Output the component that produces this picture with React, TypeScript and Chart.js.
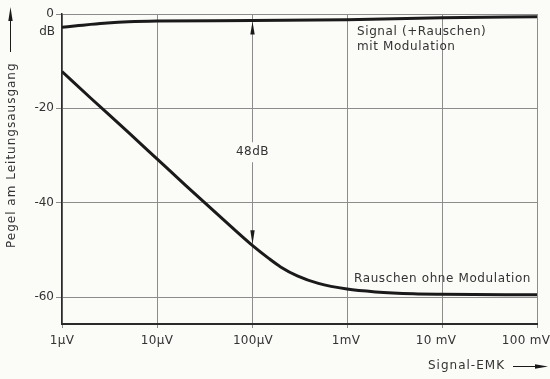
import React, { useEffect, useRef } from "react";
import { Chart, registerables } from "chart.js";

Chart.register(...registerables);

// ---- data ----
const xTickValues = [1e-6, 1e-5, 1e-4, 1e-3, 1e-2, 1e-1];
const xTickLabels = ["1µV", "10µV", "100µV", "1mV", "10 mV", "100 mV"];
const yTickValues = [0, -20, -40, -60];
const yTickLabels = ["0", "-20", "-40", "-60"];

const signalX = [1e-6, 1.5e-6, 2e-6, 3e-6, 5e-6, 1e-5, 1e-4, 1e-3, 1e-2, 1e-1];
const signalDb = [-2.8, -2.45, -2.2, -1.9, -1.65, -1.5, -1.4, -1.2, -0.8, -0.6];

const noiseX = [1e-6, 2e-6, 5e-6, 1e-5, 2e-5, 5e-5, 1e-4, 1.5e-4, 2e-4, 3e-4, 5e-4, 1e-3, 2e-3, 5e-3, 1e-2, 1e-1];
const noiseDb = [-12.2, -17.8, -25.1, -30.7, -36.3, -43.6, -49.0, -51.8, -53.6, -55.5, -57.1, -58.3, -58.9, -59.3, -59.4, -59.5];

const markerX = 1e-4;
const markerLabel = "48dB";
const signalLabel1 = "Signal (+Rauschen)";
const signalLabel2 = "mit Modulation";
const noiseLabel = "Rauschen ohne Modulation";
const yTitle = "Pegel am Leitungsausgang";
const xTitle = "Signal-EMK";
const yUnit = "dB";

const FONT = "'DejaVu Sans', sans-serif";
const BG = "#fbfbf8";
const INK = "#1a1a1a";
const TXT = "#333333";
// horizontal nudge of x tick labels (the mV labels sit left of their ticks)
const X_LABEL_SHIFT = [0, 0, 1, -1, -6, -11];

function interp(xs: number[], ys: number[], x: number) {
  const lx = Math.log10(x);
  for (let i = 0; i < xs.length - 1; i++) {
    const a = Math.log10(xs[i]);
    const b = Math.log10(xs[i + 1]);
    if (lx >= a && lx <= b) return ys[i] + ((lx - a) / (b - a)) * (ys[i + 1] - ys[i]);
  }
  return ys[ys.length - 1];
}

function tri(ctx: CanvasRenderingContext2D, pts: number[][]) {
  ctx.beginPath();
  ctx.moveTo(pts[0][0], pts[0][1]);
  ctx.lineTo(pts[1][0], pts[1][1]);
  ctx.lineTo(pts[2][0], pts[2][1]);
  ctx.closePath();
  ctx.fill();
}

const bgPlugin = {
  id: "bg",
  beforeDraw(chart: any) {
    const ctx = chart.ctx;
    ctx.save();
    ctx.fillStyle = BG;
    ctx.fillRect(0, 0, chart.width, chart.height);
    ctx.restore();
  },
};

const annoPlugin = {
  id: "anno",
  afterDatasetsDraw(chart: any) {
    const ctx: CanvasRenderingContext2D = chart.ctx;
    const xs = chart.scales.x;
    const ys = chart.scales.y;
    ctx.save();

    // x tick labels
    ctx.font = `12px ${FONT}`;
    (ctx as any).letterSpacing = "0.3px";
    ctx.fillStyle = TXT;
    ctx.textAlign = "center";
    ctx.textBaseline = "middle";
    xTickValues.forEach((v, i) => {
      ctx.fillText(xTickLabels[i], xs.getPixelForValue(v) + X_LABEL_SHIFT[i], chart.chartArea.bottom + 17);
    });

    // marker arrow
    const mx = Math.round(xs.getPixelForValue(markerX)) + 0.5;
    const yTop = ys.getPixelForValue(interp(signalX, signalDb, markerX));
    const yBot = ys.getPixelForValue(interp(noiseX, noiseDb, markerX));
    const labelY = ys.getPixelForValue(-29.3);
    ctx.font = `12px ${FONT}`;
    (ctx as any).letterSpacing = "0.5px";
    const tw = ctx.measureText(markerLabel).width;
    ctx.fillStyle = BG;
    ctx.fillRect(mx - tw / 2 - 2, labelY - 10, tw + 4, 20);
    ctx.fillStyle = TXT;
    ctx.textAlign = "center";
    ctx.textBaseline = "middle";
    ctx.fillText(markerLabel, mx, labelY);
    ctx.fillStyle = INK;
    tri(ctx, [[mx, yTop + 1], [mx - 2.2, yTop + 14], [mx + 2.2, yTop + 14]]);
    tri(ctx, [[mx, yBot - 1], [mx - 2.2, yBot - 15], [mx + 2.2, yBot - 15]]);

    // curve labels
    ctx.fillStyle = TXT;
    ctx.textAlign = "left";
    ctx.font = `12px ${FONT}`;
    (ctx as any).letterSpacing = "0.6px";
    ctx.fillText(signalLabel1, 357, 32);
    ctx.fillText(signalLabel2, 357, 47);
    ctx.fillText(noiseLabel, 354, 279);

    // dB unit
    (ctx as any).letterSpacing = "0px";
    ctx.font = `12px ${FONT}`;
    ctx.textAlign = "right";
    ctx.fillText(yUnit, 55, 32);

    // x title
    ctx.font = `12px ${FONT}`;
    (ctx as any).letterSpacing = "1px";
    ctx.textAlign = "left";
    ctx.fillText(xTitle, 428, 366);
    ctx.strokeStyle = INK;
    ctx.lineWidth = 1;
    ctx.beginPath();
    ctx.moveTo(513, 366.5);
    ctx.lineTo(540, 366.5);
    ctx.stroke();
    ctx.fillStyle = INK;
    tri(ctx, [[548, 366.5], [535, 364.3], [535, 368.7]]);

    // y title
    ctx.save();
    ctx.translate(12, 248);
    ctx.rotate(-Math.PI / 2);
    ctx.fillStyle = TXT;
    ctx.textAlign = "left";
    ctx.textBaseline = "middle";
    ctx.fillText(yTitle, 0, 0);
    ctx.restore();
    ctx.strokeStyle = INK;
    ctx.beginPath();
    ctx.moveTo(10.5, 52);
    ctx.lineTo(10.5, 20);
    ctx.stroke();
    ctx.fillStyle = INK;
    tri(ctx, [[10.5, 7], [8.3, 21], [12.7, 21]]);
    ctx.restore();
  },
};

export default function App() {
  const ref = useRef<HTMLCanvasElement | null>(null);
  useEffect(() => {
    if (!ref.current) return;
    const chart = new Chart(ref.current, {
      type: "line",
      data: {
        datasets: [
          {
            label: "signal",
            data: signalX.map((x, i) => ({ x, y: signalDb[i] })),
            borderColor: INK,
            borderWidth: 3,
            pointRadius: 0,
            cubicInterpolationMode: "monotone",
            fill: false,
          },
          {
            label: "noise",
            data: noiseX.map((x, i) => ({ x, y: noiseDb[i] })),
            borderColor: INK,
            borderWidth: 3,
            pointRadius: 0,
            cubicInterpolationMode: "monotone",
            fill: false,
          },
        ],
      },
      options: {
        responsive: false,
        animation: false,
        devicePixelRatio: 1,
        layout: { padding: { left: 0, top: 14, right: 13, bottom: 0 } },
        plugins: { legend: { display: false }, tooltip: { enabled: false } },
        scales: {
          x: {
            type: "logarithmic",
            min: 1e-6,
            max: 1e-1,
            afterBuildTicks: (s: any) => {
              s.ticks = xTickValues.map((v) => ({ value: v }));
            },
            afterFit: (s: any) => {
              s.height = 55;
              s.paddingLeft = 0;
              s.paddingRight = 0;
            },
            ticks: {
              display: false,
              autoSkip: false,
              maxRotation: 0,
            },
            grid: { color: "#8c8c8c", lineWidth: 1, tickLength: 4, drawTicks: true },
            border: { display: true, color: "#2a2a2a", width: 2 },
          },
          y: {
            type: "linear",
            min: -65.7,
            max: 0,
            afterBuildTicks: (s: any) => {
              s.ticks = yTickValues.map((v) => ({ value: v }));
            },
            afterFit: (s: any) => {
              s.width = 62;
              s.paddingTop = 0;
              s.paddingBottom = 0;
            },
            ticks: {
              padding: 2,
              color: TXT,
              font: { family: FONT, size: 12 },
              callback: (_v: any, i: number) => yTickLabels[i],
            },
            grid: { color: "#8c8c8c", lineWidth: 1, tickLength: 6, drawTicks: true },
            border: { display: true, color: "#2a2a2a", width: 1.5 },
          },
        },
      },
      plugins: [bgPlugin, annoPlugin],
    } as any);
    return () => chart.destroy();
  }, []);
  return (
    <div style={{ position: "absolute", left: 0, top: 0, width: 550, height: 379 }}>
      <canvas ref={ref} width={550} height={379} style={{ display: "block" }} />
    </div>
  );
}
